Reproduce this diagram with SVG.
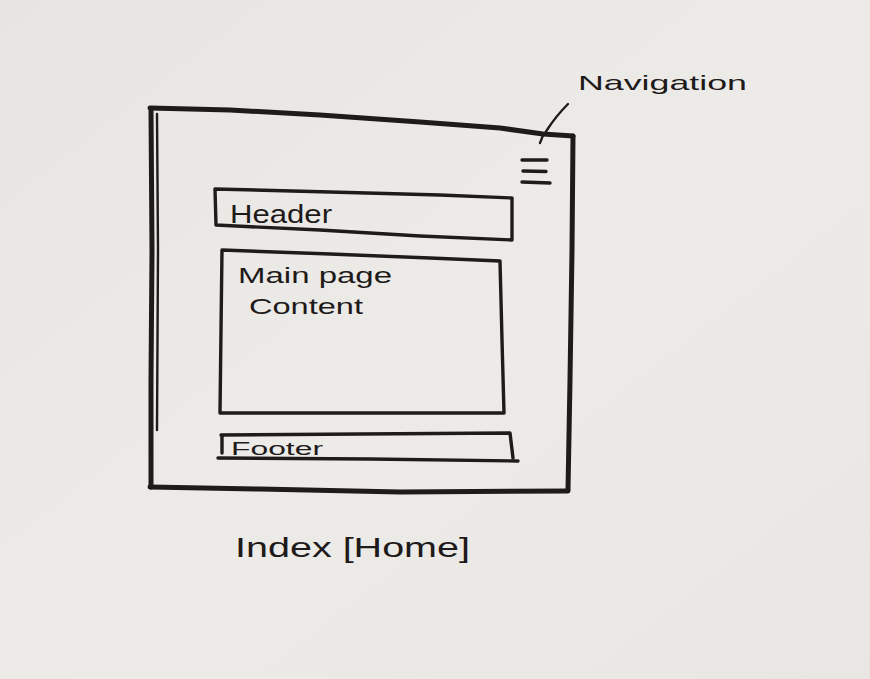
<svg xmlns="http://www.w3.org/2000/svg" width="870" height="679" viewBox="0 0 870 679">
  <defs>
    <linearGradient id="paper" x1="0" y1="0" x2="1" y2="1">
      <stop offset="0" stop-color="#e7e5e2"/>
      <stop offset="0.5" stop-color="#ecebe8"/>
      <stop offset="1" stop-color="#e9e7e4"/>
    </linearGradient>
  </defs>
  <style>
    .ink { fill: none; stroke: #1f1b1a; stroke-linecap: round; stroke-linejoin: round; }
    .heavy { stroke-width: 5; }
    .mid { stroke-width: 3.4; }
    .thin { stroke-width: 2.4; }
    .hand { font-family: "Liberation Sans", "DejaVu Sans", sans-serif; fill: #1e1a19; }
  </style>

  <rect x="0" y="0" width="870" height="679" fill="url(#paper)"/>

  <!-- page frame -->
  <g id="page-frame">
    <path class="ink heavy" d="M150,108 L230,110 L320,115 L420,122 L500,128 L543,134 L573,136"/>
    <path class="ink heavy" d="M573,136 L572,250 L570,380 L568,490"/>
    <path class="ink heavy" d="M150,487 L260,489 L400,492 L568,491"/>
    <path class="ink heavy" d="M151,110 L152,250 L151,380 L151,487"/>
    <path class="ink thin" d="M157,114 L158,250 L157,430"/>
  </g>

  <!-- navigation icon -->
  <g id="nav-icon">
    <path class="ink mid" d="M522,160 L547,160"/>
    <path class="ink mid" d="M523,171 L546,171.5"/>
    <path class="ink mid" d="M522,182 L550,183"/>
  </g>

  <!-- header -->
  <g id="header">
    <path class="ink mid" d="M215,189 L330,192 L440,195 L512,198 L512,240 L420,236 L320,230 L216,225 Z"/>
    <text class="hand" x="230" y="223" font-size="25" textLength="102" lengthAdjust="spacingAndGlyphs">Header</text>
  </g>

  <!-- main content -->
  <g id="main-content">
    <path class="ink mid" d="M222,250 L330,254 L430,258 L500,261 L502,340 L504,413 L360,413 L220,413 L221,330 Z"/>
    <text class="hand" x="238" y="283" font-size="22" textLength="154" lengthAdjust="spacingAndGlyphs">Main page</text>
    <text class="hand" x="249" y="314" font-size="22" textLength="114" lengthAdjust="spacingAndGlyphs">Content</text>
  </g>

  <!-- footer -->
  <g id="footer">
    <path class="ink mid" d="M221,435 L360,434 L510,433 L513,458"/>
    <path class="ink mid" d="M218,458 L370,459 L518,461"/>
    <path class="ink mid" d="M222,436 L222,453"/>
    <text class="hand" x="231" y="455" font-size="18" textLength="92" lengthAdjust="spacingAndGlyphs">Footer</text>
  </g>

  <!-- leader line to navigation label -->
  <g id="connectors">
    <path class="ink thin" d="M540,143 Q542,136 547,130 Q556,116 568,104"/>
  </g>

  <g id="nav-label">
    <text class="hand" x="578" y="90" font-size="21" textLength="169" lengthAdjust="spacingAndGlyphs">Navigation</text>
  </g>

  <g id="page-title">
    <text class="hand" x="235" y="557" font-size="28" textLength="235" lengthAdjust="spacingAndGlyphs">Index [Home]</text>
  </g>
</svg>
